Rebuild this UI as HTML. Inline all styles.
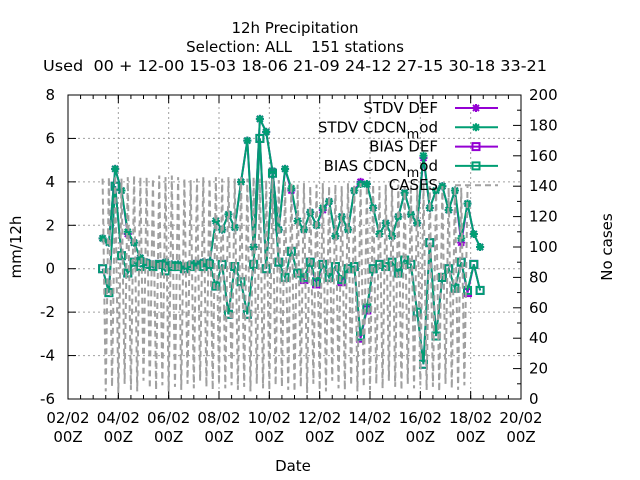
<!DOCTYPE html>
<html><head><meta charset="utf-8"><style>
body{margin:0;background:#fff}
svg{display:block;font-family:"DejaVu Sans","Liberation Sans",sans-serif;font-size:15px}
</style></head><body>
<svg id="chart" width="640" height="480" viewBox="0 0 640 480">
<g text-anchor="middle" fill="#000">
<text x="295" y="33">12h Precipitation</text>
<text x="295" y="52" xml:space="preserve">Selection: ALL    151 stations</text>
<text x="295" y="71" xml:space="preserve" textLength="504" lengthAdjust="spacingAndGlyphs">Used  00 + 12-00 15-03 18-06 21-09 24-12 27-15 30-18 33-21</text>
</g>
<g id="grid"></g>
<g id="axes"></g>
<g id="series"></g>
<g id="legend"></g>
<text x="293" y="471" text-anchor="middle">Date</text>
<text transform="translate(21,247) rotate(-90)" text-anchor="middle">mm/12h</text>
<text transform="translate(612,247) rotate(-90)" text-anchor="middle">No cases</text>
</svg>
<script>
const xTickLabels=["02/02","04/02","06/02","08/02","10/02","12/02","14/02","16/02","18/02","20/02"];
const yTicks=[-6,-4,-2,0,2,4,6,8];
const y2Ticks=[0,20,40,60,80,100,120,140,160,180,200];
const startDay=3.375, stepDay=0.25;
const stdvDef=[1.4,1.2,4.6,3.6,1.6,1.2,0.5,0.3,0.2,0.2,0.3,0.2,0.2,0.1,0.2,0.2,0.3,0.3,2.2,1.8,2.5,1.9,4.0,5.9,1.0,6.9,6.3,4.5,1.8,4.6,3.6,2.2,1.8,2.6,2.0,2.7,3.1,1.5,2.4,1.8,3.6,4.0,3.9,2.8,1.6,2.1,1.5,2.4,3.5,2.5,2.1,5.1,2.8,3.6,3.8,2.7,3.6,1.2,3.0,1.6,1.0];
const stdvMod=[1.4,1.2,4.6,3.6,1.7,1.2,0.5,0.3,0.2,0.2,0.3,0.2,0.2,0.1,0.2,0.2,0.3,0.3,2.2,1.8,2.5,1.9,4.0,5.9,1.0,6.9,6.3,4.5,1.8,4.6,3.7,2.2,1.8,2.6,2.0,2.8,3.1,1.5,2.4,1.8,3.6,3.9,3.9,2.8,1.6,2.1,1.5,2.4,3.5,2.5,2.1,5.2,2.8,3.6,3.8,2.7,3.6,1.4,3.0,1.6,1.0];
const biasDef=[0.0,-1.1,3.8,0.6,-0.2,0.3,0.1,0.2,0.1,0.2,-0.1,0.1,0.1,0.0,0.1,0.2,0.1,0.2,-0.8,0.2,-2.1,0.1,-0.6,-2.1,0.2,6.0,0.0,4.4,0.3,-0.4,0.8,-0.2,-0.5,0.3,-0.7,0.2,-0.4,0.1,-0.6,0.0,0.1,-3.2,-1.9,0.0,0.2,0.1,0.3,-0.2,0.4,0.2,-2.0,-4.4,1.2,-3.1,-0.4,0.0,-0.9,0.3,-1.1,0.2,-1.0];
const biasMod=[0.0,-1.1,3.8,0.6,-0.2,0.3,0.1,0.2,0.1,0.2,-0.1,0.1,0.1,0.0,0.1,0.2,0.1,0.2,-0.8,0.2,-2.1,0.1,-0.6,-2.1,0.2,6.0,0.0,4.4,0.3,-0.4,0.8,-0.2,-0.4,0.3,-0.6,0.2,-0.4,0.1,-0.5,0.0,0.1,-3.1,-1.8,0.0,0.2,0.1,0.3,-0.2,0.4,0.2,-2.0,-4.4,1.2,-3.1,-0.4,0.0,-0.9,0.3,-1.0,0.2,-1.0];
const cases=[145,5,146,8,147,4,145,10,146,6,147,5,146,12,146,7,145,6,147,9,146,5,147,8,146,6,145,10,144,7,145,12,146,8,145,6,146,10,145,7,146,9,145,6,146,8,145,5,146,10,145,7,144,6,145,9,144,8,143,6,142,
5,141,8,142,4,140,10,141,6,142,5,140,12,141,7,140,6,142,9,141,5,142,8,140,6,141,10,140,7,141,12,140,8,141,6,140,10,141,7,140,9,141,6,140,8,139,5,140,10,139,7,140,6,139,9,140];
const X0=68,X1=521,Y0=399,Y1=95;
const NS="http://www.w3.org/2000/svg";
function xs(day){return X0+(day-2)/18*(X1-X0);}
function ys(v){return Y0-(v+6)/14*(Y0-Y1);}
function ys2(v){return Y0-v/200*(Y0-Y1);}
function mk(tag,attrs,parent){const e=document.createElementNS(NS,tag);for(const k in attrs)e.setAttribute(k,attrs[k]);parent.appendChild(e);return e;}
const grid=document.getElementById('grid'),axes=document.getElementById('axes'),ser=document.getElementById('series'),leg=document.getElementById('legend');
xTickLabels.forEach((l,i)=>{const x=xs(2+2*i);
 if(i>0&&i<xTickLabels.length-1){const g=mk('line',{x1:x,x2:x,y1:Y0,y2:Y1,stroke:'#a0a0a0','stroke-dasharray':'2,3'},grid);}
 const t1=mk('text',{x:x,y:423,'text-anchor':'middle'},axes);t1.textContent=l;
 
 const t2=mk('text',{x:x,y:442,'text-anchor':'middle'},axes);t2.textContent='00Z';
 
 mk('line',{x1:x,x2:x,y1:Y0,y2:Y0-8,stroke:'#000'},axes);mk('line',{x1:x,x2:x,y1:Y1,y2:Y1+8,stroke:'#000'},axes);
});
for(let d=2;d<=20;d+=0.5){const x=xs(d);mk('line',{x1:x,x2:x,y1:Y0,y2:Y0-4,stroke:'#000'},axes);mk('line',{x1:x,x2:x,y1:Y1,y2:Y1+4,stroke:'#000'},axes);}
yTicks.forEach(v=>{const y=ys(v);
 if(v>-6&&v<8){const g=mk('line',{x1:X0,x2:X1,y1:y,y2:y,stroke:'#a0a0a0','stroke-dasharray':'2,3'},grid);}
 mk('line',{x1:X0,x2:X0+8,y1:y,y2:y,stroke:'#000'},axes);
 const t=mk('text',{x:55,y:y+5,'text-anchor':'end'},axes);t.textContent=String(v);
 
});
y2Ticks.forEach(v=>{const y=ys2(v);
 mk('line',{x1:X1,x2:X1-8,y1:y,y2:y,stroke:'#000'},axes);
 const t=mk('text',{x:529,y:y+5,'text-anchor':'start'},axes);t.textContent=String(v);
 
 if(v<200){const ym=ys2(v+10);mk('line',{x1:X1,x2:X1-4,y1:ym,y2:ym,stroke:'#000'},axes);}
});
const fr=mk('rect',{x:X0,y:Y1,width:X1-X0,height:Y0-Y1,fill:'none',stroke:'#000'},axes);

function star(g,x,y,c){mk('path',{d:`M${x-4},${y}h8M${x},${y-4}v8M${x-3},${y-3}l6,6M${x-3},${y+3}l6,-6`,stroke:c,'stroke-width':2,fill:'none'},g);}
function sq(g,x,y,c){mk('rect',{x:x-3.5,y:y-3.5,width:7,height:7,stroke:c,'stroke-width':2,fill:'none'},g);}
function drawSeries(arr,color,marker,name){
 const g=mk('g',{},ser);
 const pts=arr.map((v,i)=>[xs(startDay+i*stepDay),ys(v)]);
 mk('polyline',{points:pts.map(p=>p.join(',')).join(' '),fill:'none',stroke:color,'stroke-width':2},g);
 pts.forEach(p=>marker(g,p[0],p[1],color));
}
drawSeries(stdvDef,'#9400d3',star,'stdv-def-series');
drawSeries(stdvMod,'#009e73',star,'stdv-cdcn-mod-series');
drawSeries(biasDef,'#9400d3',sq,'bias-def-series');
drawSeries(biasMod,'#009e73',sq,'bias-cdcn-mod-series');
const cg=mk('g',{},ser);


mk('polyline',{points:cases.map((v,i)=>xs(startDay+i*stepDay/2)+','+ys2(v)).join(' '),fill:'none',stroke:'#a0a0a0','stroke-width':2,'stroke-dasharray':'6,4'},cg);
const items=[["STDV DEF",'#9400d3',star,false],["STDV CDCN",'#009e73',star,true],["BIAS DEF",'#9400d3',sq,false],["BIAS CDCN",'#009e73',sq,true],["CASES",'#a0a0a0',null,false]];
items.forEach((it,i)=>{const y=108+i*19.3;
 const g=mk('g',{},leg);
 const t=mk('text',{x:438,y:y+5,'text-anchor':'end'},g);
 if(it[3]){t.appendChild(document.createTextNode(it[0]));const s=mk('tspan',{dy:6,'font-size':'13'},t);s.textContent='m';const s2=mk('tspan',{dy:-6},t);s2.textContent='od';}
 else t.textContent=it[0];
 if(it[2]){mk('line',{x1:455,x2:498,y1:y,y2:y,stroke:it[1],'stroke-width':2},g);it[2](g,476,y,it[1]);}
 else mk('line',{x1:455,x2:498,y1:y,y2:y,stroke:it[1],'stroke-width':2,'stroke-dasharray':'6,4'},g);
});
</script>
</body></html>
